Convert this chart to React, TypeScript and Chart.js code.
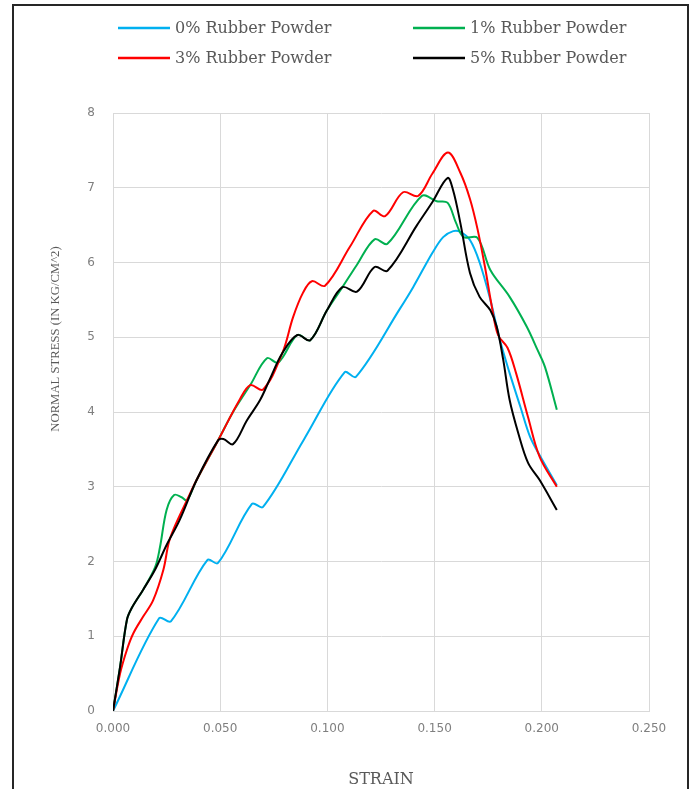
import React, { useEffect, useRef } from 'react';
import { Chart, registerables } from 'chart.js';

Chart.register(...registerables);

// ---- data ----
const SERIES_LABELS = ['0% Rubber Powder', '1% Rubber Powder', '3% Rubber Powder', '5% Rubber Powder'];
const SERIES_COLORS = ['#00B0F0', '#00B050', '#FF0000', '#000000'];

const strain0 = [0, 0.0215, 0.027, 0.044, 0.049, 0.0648, 0.070, 0.089, 0.108, 0.1133, 0.134, 0.140, 0.149, 0.154, 0.1587, 0.162, 0.1665, 0.171, 0.176, 0.1805, 0.185, 0.190, 0.1945, 0.199, 0.207];
const stress0 = [0, 1.24, 1.20, 2.02, 1.98, 2.77, 2.73, 3.63, 4.53, 4.47, 5.39, 5.67, 6.13, 6.34, 6.42, 6.41, 6.30, 6.00, 5.50, 4.96, 4.52, 4.07, 3.67, 3.42, 3.02];

const strain1 = [0, 0.0033, 0.0065, 0.0088, 0.014, 0.0196, 0.0219, 0.025, 0.0285, 0.032, 0.0345, 0.039, 0.049, 0.056, 0.064, 0.0718, 0.077, 0.086, 0.092, 0.0998, 0.107, 0.1138, 0.122, 0.128, 0.144, 0.151, 0.156, 0.160, 0.1635, 0.170, 0.176, 0.185, 0.193, 0.198, 0.2015, 0.207];
const stress1 = [0, 0.59, 1.22, 1.38, 1.62, 1.92, 2.19, 2.69, 2.89, 2.86, 2.82, 3.09, 3.62, 4.00, 4.36, 4.72, 4.66, 5.03, 4.96, 5.36, 5.67, 5.97, 6.31, 6.25, 6.89, 6.82, 6.80, 6.53, 6.34, 6.33, 5.90, 5.54, 5.14, 4.83, 4.60, 4.03];

const strain3 = [0, 0.0033, 0.0065, 0.0095, 0.014, 0.0187, 0.0235, 0.026, 0.0285, 0.0345, 0.039, 0.049, 0.059, 0.064, 0.070, 0.079, 0.084, 0.0887, 0.0928, 0.0989, 0.1105, 0.1213, 0.1269, 0.1353, 0.1423, 0.149, 0.1562, 0.162, 0.1665, 0.170, 0.1735, 0.1767, 0.1796, 0.184, 0.188, 0.1936, 0.199, 0.207];
const stress3 = [0, 0.50, 0.82, 1.04, 1.26, 1.48, 1.89, 2.25, 2.45, 2.82, 3.09, 3.62, 4.16, 4.36, 4.30, 4.79, 5.27, 5.60, 5.75, 5.69, 6.21, 6.69, 6.62, 6.94, 6.89, 7.19, 7.47, 7.20, 6.85, 6.45, 5.94, 5.41, 5.03, 4.86, 4.52, 3.93, 3.40, 3.00];

const strain5 = [0, 0.0033, 0.0065, 0.0088, 0.014, 0.0196, 0.025, 0.031, 0.039, 0.049, 0.0515, 0.056, 0.0625, 0.0686, 0.073, 0.079, 0.086, 0.092, 0.0998, 0.107, 0.1138, 0.122, 0.128, 0.1418, 0.149, 0.156, 0.1586, 0.162, 0.1665, 0.171, 0.176, 0.179, 0.182, 0.185, 0.189, 0.1936, 0.199, 0.207];
const stress5 = [0, 0.59, 1.22, 1.38, 1.62, 1.89, 2.22, 2.55, 3.09, 3.62, 3.64, 3.57, 3.89, 4.16, 4.43, 4.79, 5.03, 4.96, 5.36, 5.67, 5.61, 5.94, 5.89, 6.50, 6.81, 7.13, 6.97, 6.53, 5.86, 5.54, 5.36, 5.14, 4.70, 4.16, 3.72, 3.32, 3.09, 2.69];

const STRAINS = [strain0, strain1, strain3, strain5];
const STRESSES = [stress0, stress1, stress3, stress5];

const X_TITLE = 'STRAIN';
const Y_TITLE = 'NORMAL STRESS (IN KG/CM^2)';
const X_MIN = 0, X_MAX = 0.25, X_STEP = 0.05;
const Y_MIN = 0, Y_MAX = 8, Y_STEP = 1;

const TEXT_GRAY = '#595959';
const TICK_GRAY = '#7f7f7f';
const GRID = '#d9d9d9';

// custom two-column legend, drawn on the canvas
const legendPlugin = {
  id: 'twoColLegend',
  afterDraw(chart: any) {
    const ctx = chart.ctx as CanvasRenderingContext2D;
    const colX = [118, 413];
    const rowY = [28, 58];
    chart.data.datasets.forEach((ds: any, i: number) => {
      const x = colX[i % 2];
      const y = rowY[Math.floor(i / 2)];
      ctx.save();
      ctx.strokeStyle = ds.borderColor;
      ctx.lineWidth = 2.5;
      ctx.beginPath();
      ctx.moveTo(x, y);
      ctx.lineTo(x + 52, y);
      ctx.stroke();
      ctx.fillStyle = TEXT_GRAY;
      ctx.font = '16px "DejaVu Serif"';
      ctx.textBaseline = 'middle';
      ctx.textAlign = 'left';
      ctx.fillText(ds.label, x + 57, y + 1);
      ctx.restore();
    });
  },
};

// y-axis title (sits above the plot's vertical centre in the reference)
const yTitlePlugin = {
  id: 'yTitle',
  afterDraw(chart: any) {
    const ctx = chart.ctx as CanvasRenderingContext2D;
    ctx.save();
    ctx.translate(56, 339);
    ctx.rotate(-Math.PI / 2);
    ctx.fillStyle = TEXT_GRAY;
    ctx.font = '12.7px "Liberation Serif"';
    ctx.textAlign = 'center';
    ctx.textBaseline = 'middle';
    ctx.fillText(Y_TITLE, 0, 0);
    ctx.restore();
  },
};

export default function App() {
  const ref = useRef<HTMLCanvasElement>(null);

  useEffect(() => {
    if (!ref.current) return;
    const datasets = SERIES_LABELS.map((label, i) => ({
      label,
      data: STRAINS[i].map((x, j) => ({ x, y: STRESSES[i][j] })),
      borderColor: SERIES_COLORS[i],
      backgroundColor: SERIES_COLORS[i],
      borderWidth: 2,
      pointRadius: 0,
      pointHoverRadius: 0,
      tension: 0.35,
      fill: false,
      order: 4 - i,
    }));
    const chart = new Chart(ref.current, {
      type: 'line',
      data: { datasets },
      plugins: [legendPlugin, yTitlePlugin],
      options: {
        responsive: false,
        animation: false,
        devicePixelRatio: 1,
        layout: { padding: { top: 113, right: 44, bottom: 0, left: 0 } },
        plugins: {
          legend: { display: false },
          tooltip: { enabled: false },
        },
        scales: {
          x: {
            type: 'linear',
            min: X_MIN,
            max: X_MAX,
            afterFit: (s: any) => { s.height = 78; },
            ticks: {
              stepSize: X_STEP,
              padding: 11,
              color: TICK_GRAY,
              font: { family: '"DejaVu Sans"', size: 12 },
              callback: (v: any) => Number(v).toFixed(3),
              maxRotation: 0,
            },
            grid: { color: GRID, drawTicks: false, lineWidth: 1 },
            border: { color: GRID },
            title: {
              display: true,
              text: X_TITLE,
              color: TEXT_GRAY,
              font: { family: '"DejaVu Serif"', size: 16 },
              padding: { top: 0, bottom: 0 },
            },
          },
          y: {
            type: 'linear',
            min: Y_MIN,
            max: Y_MAX,
            afterFit: (s: any) => { s.width = 113; },
            ticks: {
              stepSize: Y_STEP,
              padding: 18,
              color: TICK_GRAY,
              font: { family: '"DejaVu Sans"', size: 12 },
            },
            grid: { color: GRID, drawTicks: false, lineWidth: 1 },
            border: { color: GRID },
          },
        },
      },
    });
    return () => chart.destroy();
  }, []);

  return (
    <div style={{ position: 'fixed', left: 0, top: 0, width: 693, height: 789, background: '#fff', overflow: 'hidden' }}>
      <div style={{ position: 'absolute', left: 12, top: 4, width: 677, height: 840, border: '2px solid #262626', boxSizing: 'border-box' }} />
      <canvas ref={ref} width={693} height={789} style={{ position: 'absolute', left: 0, top: 0, width: 693, height: 789 }} />
    </div>
  );
}
